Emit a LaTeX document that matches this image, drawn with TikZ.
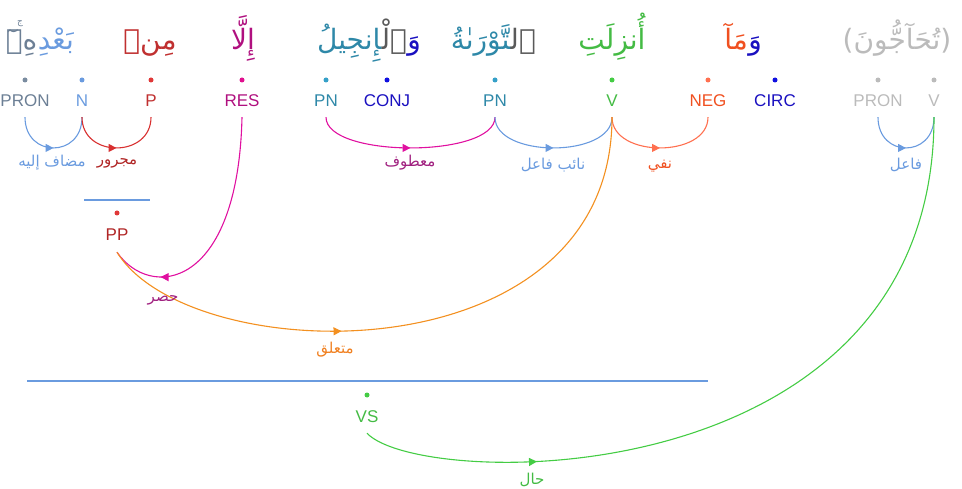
\documentclass[tikz,border=0pt]{standalone}
\usepackage{fontspec}
\setmainfont{Liberation Sans}
\newfontfamily\arabicfont[Script=Arabic]{DejaVu Sans}
\TeXXeTstate=1
\usetikzlibrary{arrows.meta,decorations.markings}
\definecolor{cPron}{HTML}{6C7F95}
\definecolor{cPronD}{HTML}{7A8CA0}
\definecolor{cN}{HTML}{6A9BDF}
\definecolor{cP}{HTML}{C03030}
\definecolor{cPD}{HTML}{E03838}
\definecolor{cRes}{HTML}{B0107F}
\definecolor{cResD}{HTML}{E0108F}
\definecolor{cPN}{HTML}{2E88A8}
\definecolor{cPND}{HTML}{35A0C8}
\definecolor{cConj}{HTML}{1A10C0}
\definecolor{cConjD}{HTML}{1010E0}
\definecolor{cV}{HTML}{44BB44}
\definecolor{cVD}{HTML}{44CC44}
\definecolor{cNeg}{HTML}{F05020}
\definecolor{cNegD}{HTML}{FF7050}
\definecolor{cGrey}{HTML}{BBBBBB}
\definecolor{cDet}{HTML}{5A5A5A}
\definecolor{cBlueE}{HTML}{6A9BDF}
\definecolor{cRedE}{HTML}{D83030}
\definecolor{cRedL}{HTML}{B02525}
\definecolor{cMagE}{HTML}{E010A0}
\definecolor{cMagL}{HTML}{A0207F}
\definecolor{cNegE}{HTML}{FF7050}
\definecolor{cOrE}{HTML}{F39020}
\definecolor{cOrL}{HTML}{F08020}
\definecolor{cGrE}{HTML}{44CC44}
\begin{document}
\begin{tikzpicture}[x=1pt,y=-1pt,
  word/.style={inner sep=0pt, font=\arabicfont\fontsize{28}{32}\selectfont},
  tag/.style={inner sep=0pt, font=\fontsize{17}{20}\selectfont, text height=12pt, text depth=0pt},
  dotn/.style={circle, inner sep=0pt, minimum size=5pt},
  elabel/.style={inner sep=0pt, font=\arabicfont\fontsize{15}{18}\selectfont},
  edge/.style={line width=1.1pt},
  bracket/.style={line width=1.2pt, draw=cBlueE},
  midarrow/.style={postaction={decorate}, decoration={markings, mark=at position #1 with {\arrow{Triangle[length=8pt,width=8pt]}}}},
]
\useasboundingbox (0,0) rectangle (962,489);

% words
\node[word, text=cN, anchor=base east] (wN) at (74,50) {بَعْدِ};
\node[word, text=cPron, anchor=base east] (wPron) at (wN.base west) {هِۦٓ};
\node[inner sep=0pt, text=cPron, font=\arabicfont\fontsize{9}{10}\selectfont] (wStop) at (20,24) {ج};
\node[word, text=cP, anchor=base] (wP) at (150,50) {مِنۢ};
\node[word, text=cRes, anchor=base] (wRes) at (243,50) {إِلَّا};
\node[word, text=cConj, anchor=base east] (wConj) at (421,50) {وَ};
\node[word, text=cDet, anchor=base east] (wDet1) at (wConj.base west) {ٱلْ^^^^200d};
\node[word, text=cPN, anchor=base east] (wPN1) at (wDet1.base west) {^^^^200dإِنجِيلُ};
\node[word, text=cDet, anchor=base east] (wDet2) at (536,50) {ٱل^^^^200d};
\node[word, text=cPN, anchor=base east] (wPN2) at (wDet2.base west) {^^^^200dتَّوْرَىٰةُ};
\node[word, text=cV, anchor=base] (wV) at (612,50) {أُنزِلَتِ};
\node[word, text=cConj, anchor=base east] (wCirc) at (762,50) {وَ};
\node[word, text=cNeg, anchor=base east] (wNeg) at (wCirc.base west) {مَآ};
\node[word, text=cGrey, anchor=base] (wVerb) at (897,50) {(\arabicfont تُحَآجُّونَ)};

% dots
\node[dotn, fill=cPronD] (dPron1) at (25,80) {};
\node[dotn, fill=cN] (dN) at (82,80) {};
\node[dotn, fill=cPD] (dP) at (151,80) {};
\node[dotn, fill=cResD] (dRes) at (242,80) {};
\node[dotn, fill=cPND] (dPN1) at (326,80) {};
\node[dotn, fill=cConjD] (dConj) at (387,80) {};
\node[dotn, fill=cPND] (dPN2) at (495,80) {};
\node[dotn, fill=cVD] (dV1) at (612,80) {};
\node[dotn, fill=cNegD] (dNeg) at (708,80) {};
\node[dotn, fill=cConjD] (dCirc) at (775,80) {};
\node[dotn, fill=cGrey] (dPron2) at (878,80) {};
\node[dotn, fill=cGrey] (dV2) at (934,80) {};

% tags
\node[tag, text=cPron] (tPron1) at (25,101) {PRON};
\node[tag, text=cN] (tN) at (82,101) {N};
\node[tag, text=cP] (tP) at (151,101) {P};
\node[tag, text=cRes] (tRes) at (242,101) {RES};
\node[tag, text=cPN] (tPN1) at (326,101) {PN};
\node[tag, text=cConj] (tConj) at (387,101) {CONJ};
\node[tag, text=cPN] (tPN2) at (495,101) {PN};
\node[tag, text=cV] (tV1) at (612,101) {V};
\node[tag, text=cNeg] (tNeg) at (708,101) {NEG};
\node[tag, text=cConj] (tCirc) at (775,101) {CIRC};
\node[tag, text=cGrey] (tPron2) at (878,101) {PRON};
\node[tag, text=cGrey] (tV2) at (934,101) {V};

% phrase nodes
\coordinate (ppL) at (84,200);
\coordinate (ppR) at (150,200);
\draw[bracket] (ppL) -- (ppR);
\node[dotn, fill=cPD] (dPP) at (117,213) {};
\node[tag, text=cRedL] (tPP) at (117,235) {PP};
\coordinate (vsL) at (27,381);
\coordinate (vsR) at (708,381);
\draw[bracket] (vsL) -- (vsR);
\node[dotn, fill=cVD] (dVS) at (367,395) {};
\node[tag, text=cV] (tVS) at (367,416) {VS};

% arcs
\draw[edge, cBlueE, midarrow=0.5] ([yshift=-10pt]tPron1.south) .. controls +(0,41) and +(0,41) .. ([yshift=-10pt]tN.south);
\draw[edge, cRedE, midarrow=0.5] ([yshift=-10pt]tN.south) .. controls +(0,41) and +(0,41) .. ([yshift=-10pt]tP.south);
\draw[edge, cMagE, midarrow=0.5] ([yshift=-10pt]tPN1.south) .. controls +(0,41) and +(0,41) .. ([yshift=-10pt]tPN2.south);
\draw[edge, cBlueE, midarrow=0.5] ([yshift=-10pt]tPN2.south) .. controls +(0,41) and +(0,41) .. ([yshift=-10pt]tV1.south);
\draw[edge, cNegE, midarrow=0.5] ([yshift=-10pt]tV1.south) .. controls +(0,41) and +(0,41) .. ([yshift=-10pt]tNeg.south);
\draw[edge, cBlueE, midarrow=0.5] ([yshift=-10pt]tPron2.south) .. controls +(0,41) and +(0,41) .. ([yshift=-10pt]tV2.south);

% long edges
\draw[edge, cMagE, midarrow=0.79] ([yshift=-10pt]tRes.south) .. controls +(-4,173) and +(33,48) .. ([yshift=-11pt]tPP.south);
\draw[edge, cOrE, midarrow=0.39] ([yshift=-11pt]tPP.south) .. controls +(73,118) and +(0,262) .. ([yshift=-10pt]tV1.south);
\draw[edge, cGrE, midarrow=0.23] ([yshift=-11pt]tVS.south) .. controls +(53,57) and +(0,382) .. ([yshift=-10pt]tV2.south);

% edge labels
\node[elabel, text=cBlueE] (eMudaf) at (52,163) {\beginR مضاف إليه\endR};
\node[elabel, text=cRedL] (eMajrur) at (117,163) {مجرور};
\node[elabel, text=cMagL] (eMatuf) at (410,163) {معطوف};
\node[elabel, text=cBlueE] (eNaib) at (553,165) {\beginR نائب فاعل\endR};
\node[elabel, text=cNeg] (eNafy) at (660,166) {نفي};
\node[elabel, text=cBlueE] (eFail) at (906,165) {فاعل};
\node[elabel, text=cMagL] (eHasr) at (163,300) {حصر};
\node[elabel, text=cOrL] (eMutaalliq) at (335,350) {متعلق};
\node[elabel, text=cV] (eHal) at (532,480) {حال};
\end{tikzpicture}
\end{document}
